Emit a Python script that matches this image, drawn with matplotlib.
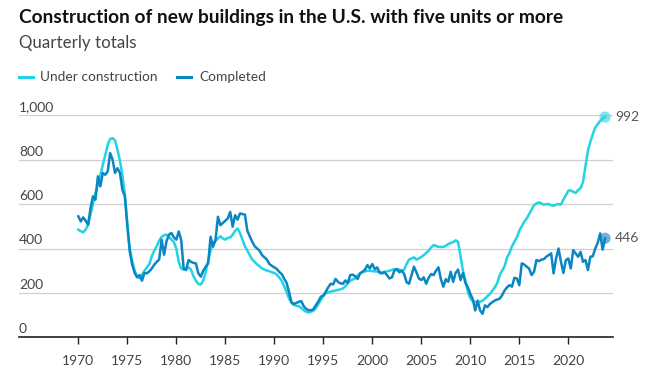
import matplotlib
matplotlib.use("Agg")
import matplotlib.pyplot as plt
import matplotlib.transforms as mtransforms
import numpy as np

# Quarterly data, 1970 Q1 .. 2023 Q4 (thousands of units)
start_year = 1970
under_construction = [
    485, 478, 473, 485,   # 1970
    507, 555, 605, 650,   # 1971
    687, 730, 777, 820,   # 1972
    867, 893, 897, 887,   # 1973
    845, 795, 730, 645,   # 1974
    507, 402, 345, 300,   # 1975
    275, 267, 282, 300,   # 1976
    315, 330, 365, 390,   # 1977
    410, 435, 452, 460,   # 1978
    462, 452, 440, 430,   # 1979
    400, 340, 310, 305,   # 1980
    308, 315, 305, 275,   # 1981
    255, 240, 238, 255,   # 1982
    295, 345, 390, 425,   # 1983
    435, 445, 455, 445,   # 1984
    440, 448, 450, 462,   # 1985
    480, 490, 470, 440,   # 1986
    410, 390, 370, 350,   # 1987
    340, 328, 320, 310,   # 1988
    305, 300, 298, 293,   # 1989
    290, 282, 270, 255,   # 1990
    230, 205, 175, 155,   # 1991
    145, 142, 140, 132,   # 1992
    122, 115, 112, 115,   # 1993
    120, 132, 150, 168,   # 1994
    185, 198, 203, 206,   # 1995
    208, 211, 213, 216,   # 1996
    220, 230, 245, 255,   # 1997
    260, 266, 278, 288,   # 1998
    293, 297, 300, 300,   # 1999
    298, 297, 296, 295,   # 2000
    293, 295, 297, 300,   # 2001
    303, 307, 307, 305,   # 2002
    300, 305, 330, 350,   # 2003
    355, 360, 350, 355,   # 2004
    362, 370, 380, 390,   # 2005
    405, 415, 412, 407,   # 2006
    407, 407, 412, 420,   # 2007
    425, 428, 437, 430,   # 2008
    365, 300, 255, 205,   # 2009
    175, 163, 160, 160,   # 2010
    160, 165, 174, 185,   # 2011
    195, 210, 225, 245,   # 2012
    280, 300, 320, 360,   # 2013
    380, 410, 430, 450,   # 2014
    480, 500, 520, 535,   # 2015
    555, 575, 595, 603,   # 2016
    608, 603, 597, 600,   # 2017
    600, 595, 592, 598,   # 2018
    600, 598, 620, 640,   # 2019
    660, 662, 655, 650,   # 2020
    663, 672, 700, 770,   # 2021
    840, 880, 915, 945,   # 2022
    960, 975, 985, 992,   # 2023
]
completed = [
    545, 522, 540, 525,   # 1970
    507, 582, 635, 620,   # 1971
    725, 680, 740, 732,   # 1972
    747, 830, 800, 740,   # 1973
    762, 740, 665, 635,   # 1974
    507, 387, 327, 290,   # 1975
    270, 280, 255, 290,   # 1976
    288, 297, 310, 327,   # 1977
    340, 350, 440, 372,   # 1978
    432, 462, 470, 450,   # 1979
    440, 477, 438, 310,   # 1980
    303, 348, 340, 335,   # 1981
    333, 288, 273, 300,   # 1982
    318, 333, 453, 408,   # 1983
    438, 543, 505, 515,   # 1984
    525, 535, 565, 498,   # 1985
    550, 530, 558, 555,   # 1986
    553, 480, 455, 430,   # 1987
    410, 400, 390, 370,   # 1988
    360, 350, 330, 322,   # 1989
    315, 308, 295, 285,   # 1990
    265, 245, 205, 158,   # 1991
    150, 155, 160, 163,   # 1992
    140, 128, 122, 122,   # 1993
    127, 145, 162, 183,   # 1994
    188, 205, 225, 241,   # 1995
    238, 263, 250, 243,   # 1996
    241, 256, 245, 280,   # 1997
    282, 275, 263, 288,   # 1998
    295, 305, 325, 310,   # 1999
    330, 307, 315, 290,   # 2000
    288, 293, 280, 265,   # 2001
    270, 300, 307, 293,   # 2002
    300, 285, 248, 241,   # 2003
    280, 318, 293, 265,   # 2004
    258, 270, 241, 268,   # 2005
    285, 280, 300, 315,   # 2006
    262, 228, 262, 250,   # 2007
    295, 250, 290, 305,   # 2008
    258, 290, 245, 225,   # 2009
    196, 172, 121, 165,   # 2010
    121, 106, 144, 136,   # 2011
    150, 158, 166, 170,   # 2012
    174, 190, 211, 225,   # 2013
    235, 228, 268, 265,   # 2014
    235, 333, 328, 318,   # 2015
    310, 280, 295, 348,   # 2016
    343, 350, 352, 363,   # 2017
    370, 378, 288, 355,   # 2018
    400, 340, 290, 348,   # 2019
    355, 310, 393, 378,   # 2020
    363, 385, 340, 348,   # 2021
    303, 363, 365, 400,   # 2022
    425, 468, 395, 446,   # 2023
]
x_ticks = [1970, 1975, 1980, 1985, 1990, 1995, 2000, 2005, 2010, 2015, 2020]
y_ticks = [0, 200, 400, 600, 800, 1000]

title = "Construction of new buildings in the U.S. with five units or more"
subtitle = "Quarterly totals"
series_names = ["Under construction", "Completed"]

c_uc = "#22d3e6"
c_cp = "#0a86c2"

plt.rcParams['font.family'] = ['Lato', 'DejaVu Sans']

W, H = 655, 377
fig = plt.figure(figsize=(W / 100, H / 100), dpi=100)
ax = fig.add_axes([19 / W, 1 - 337.3 / H, (613 - 19) / W, (337.3 - 115.3) / H])

t = start_year + np.arange(len(under_construction)) / 4.0
ax.plot(t, under_construction, color=c_uc, lw=1.8, solid_joinstyle='round', zorder=3)
ax.plot(t, completed, color=c_cp, lw=1.8, solid_joinstyle='round', zorder=4)
ax.scatter([t[-1]], [under_construction[-1]], s=65, color=c_uc, alpha=0.6, zorder=5,
           clip_on=False, edgecolors='none')
ax.scatter([t[-1]], [completed[-1]], s=65, color=c_cp, alpha=0.6, zorder=5,
           clip_on=False, edgecolors='none')

ax.set_xlim(1963.95, 2024.56)
ax.set_ylim(0, 1000)

for s in ['top', 'right', 'left']:
    ax.spines[s].set_visible(False)
ax.spines['bottom'].set_color('#222222')
ax.spines['bottom'].set_linewidth(1.2)

ax.set_yticks(y_ticks)
ax.yaxis.set_tick_params(length=0, labelleft=False)
ax.grid(axis='y', color='#d0d0d0', lw=0.9)
ax.set_axisbelow(True)

ax.set_xticks(x_ticks)
ax.set_xticklabels([str(v) for v in x_ticks])
ax.tick_params(axis='x', length=5, width=1, color='#222222', pad=8,
               labelsize=10, labelcolor='#444444')

tr = mtransforms.blended_transform_factory(ax.transAxes, ax.transData)
off = mtransforms.offset_copy(tr, fig=fig, x=0, y=1.5, units='points')
for v in y_ticks:
    ax.text(0, v, f"{v:,}", transform=off, ha='left', va='bottom',
            fontsize=10, color='#444444')

lab = mtransforms.offset_copy(ax.transData, fig=fig, x=7, y=0, units='points')
ax.text(t[-1], under_construction[-1], f"{under_construction[-1]}", transform=lab,
        ha='left', va='center', fontsize=10, color='#555555')
ax.text(t[-1], completed[-1], f"{completed[-1]}", transform=lab,
        ha='left', va='center', fontsize=10, color='#555555')

fig.text(19 / W, 1 - 18 / H, title, ha='left', va='center', fontsize=13.8,
         fontweight='bold', color='#111111')
fig.text(19 / W, 1 - 43 / H, subtitle, ha='left', va='center', fontsize=12.2,
         color='#444444')

ly = 1 - 77 / H
fig.add_artist(plt.Line2D([19 / W, 33 / W], [ly, ly], color=c_uc, lw=2.2))
fig.text(40 / W, ly, series_names[0], ha='left', va='center', fontsize=9.9, color='#444444')
fig.add_artist(plt.Line2D([177 / W, 191 / W], [ly, ly], color=c_cp, lw=2.2))
fig.text(199 / W, ly, series_names[1], ha='left', va='center', fontsize=9.9, color='#444444')

fig.savefig("out.png", dpi=100, facecolor='white')
